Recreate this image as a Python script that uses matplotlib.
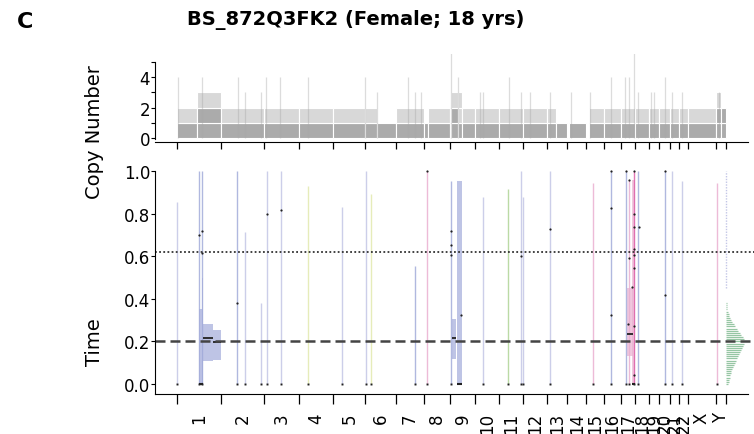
import matplotlib as mpl

mpl.use("Agg")
import matplotlib.pyplot as plt
import numpy as np

# chromosome layout (hg19, Mb)
CHROMS = [str(i) for i in range(1, 23)] + ["X", "Y"]
CHROM_LEN = [249.25, 243.2, 198.0, 191.15, 180.9, 171.1, 159.1, 146.4, 141.2, 135.5, 135.0,
             133.9, 115.2, 107.3, 102.5, 90.35, 81.2, 78.1, 59.1, 63.0, 48.1, 51.3, 155.3, 59.4]

# copy-number segments (chromosome, start/end in Mb within chromosome, total CN, major CN)
cn_chrom = ["1", "1", "2", "3", "4", "5", "6", "6", "7", "8", "8", "9", "9", "9", "9", "10", "11",
            "12", "13", "13", "14", "15", "16", "17", "18", "19", "20", "21", "22", "X", "Y", "Y"]
cn_start = [0, 111, 0, 0, 0, 0, 0, 65, 0, 0, 22, 0, 6, 44, 66, 0, 0,
            0, 0, 52, 10, 17, 0, 0, 0, 0, 0, 0, 0, 0, 0, 28]
cn_end = [111, 249.25, 243.2, 198.0, 191.15, 180.9, 65, 171.1, 159.1, 22, 146.4, 6, 44, 66, 141.2,
          135.5, 135.0, 133.9, 52, 115.2, 107.3, 102.5, 90.35, 81.2, 78.1, 59.1, 63.0, 48.1, 51.3,
          155.3, 28, 59.4]
cn_total = [2, 3, 2, 2, 2, 2, 2, 1, 2, 1, 2, 2, 3, 3, 2, 2, 2, 2, 2, 1, 1, 2, 2, 2, 2, 2, 2, 2, 2, 2, 3, 2]
cn_major = [1, 2, 1, 1, 1, 1, 1, 1, 1, 1, 1, 1, 2, 1, 1, 1, 1, 1, 1, 1, 1, 1, 1, 1, 1, 1, 1, 1, 1, 1, 2, 2]

# short high-level segments (genome Mb, total CN)
amp_pos = [5.6, 140.9, 343.9, 383.3, 473.5, 501.7, 580.6, 738.4, 1059.8, 1127.4, 1302.1, 1341.6,
           1375.4, 1544.5, 1584.0, 1708.0, 1725.0, 1871.5, 1939.0, 1990.0, 2102.6, 2221.0, 2328.4,
           2446.5, 2525.4, 2548.0, 2576.2, 2598.8, 2672.0, 2689.0, 2750.8, 2790.3, 2846.7, 3055.3]
amp_cn = [4, 4, 4, 3, 3, 4, 4, 4, 4, 3, 4, 3, 3, 6, 4, 3, 3, 4, 3, 3, 3, 3, 3, 4, 4, 4, 6, 3, 3, 3,
          4, 3, 3, 3]

# timing: narrow segments (genome Mb, upper end of interval, class)
seg_pos = [1.7, 124.0, 142.6, 339.9, 383.3, 471.8, 505.6, 586.2, 738.4, 930.1, 1063.7, 1093.6,
           1341.6, 1407.6, 1542.9, 1724.9, 1867.5, 1937.4, 1952.1, 2102.6, 2342.2, 2444.7, 2529.3,
           2545.1, 2577.8, 2600.3, 2750.8, 2788.6, 2848.4, 3045.7]
seg_top = [0.856, 1.0, 1.0, 1.0, 0.712, 0.38, 1.0, 1.0, 0.93, 0.83, 1.0, 0.89, 0.555, 1.0, 0.955,
           0.876, 0.915, 1.0, 0.876, 1.0, 0.944, 1.0, 1.0, 0.96, 1.0, 1.0, 1.0, 1.0, 0.955, 0.944]
seg_cls = ["lav", "blue", "blue", "blue", "lav", "lav", "lav", "lav", "yel", "lav", "lav", "yel",
           "blue", "pink", "blue", "lav", "grn", "lav", "lav", "lav", "pink", "blue", "blue", "pink",
           "mag", "blue", "blue", "lav", "lav", "pink"]

# timing: wider segments with confidence interval and point estimate
box_x0 = [124.0, 141.0, 148.3, 201.2, 1548.5, 1578.4, 2538.3, 2564.9]
box_x1 = [148.3, 148.3, 201.2, 249.2, 1574.4, 1604.9, 2570.5, 2581.8]
box_lo = [0.0, 0.0, 0.107, 0.112, 0.117, 0.0, 0.13, 0.0]
box_hi = [0.35, 0.50, 0.28, 0.255, 0.305, 0.955, 0.45, 0.96]
box_t = [None, None, 0.216, 0.199, 0.217, None, 0.235, None]
box_cls = ["blue", "blue", "blue", "blue", "blue", "blue", "pink", "pink"]

# individual mutation timings
dot_x = [124.0, 142.6, 142.6, 339.9, 505.6, 586.2, 1407.6, 1542.9, 1542.9, 1542.9, 1600.9, 1937.4,
         2102.6, 2444.7, 2444.7, 2444.7, 2529.3, 2546.2, 2577.8, 2577.8, 2577.8, 2577.8, 2577.8,
         2577.8, 2577.8, 2577.8, 2603.1, 2546.2, 2566.6, 2542.3, 2750.8, 2750.8]
dot_y = [0.70, 0.717, 0.614, 0.38, 0.798, 0.817, 1.0, 0.72, 0.653, 0.608, 0.324, 0.60,
         0.73, 0.825, 0.325, 1.0, 1.0, 0.96, 1.0, 0.798, 0.735, 0.634, 0.606, 0.547,
         0.27, 0.042, 0.735, 0.59, 0.457, 0.28, 1.0, 0.42]

# distribution of timing for the whole genome (rel. density at 0.00, 0.01, ... 0.40)
hist_y = np.arange(0, 0.405, 0.01)
hist_d = [2.0, 2.5, 3.0, 3.5, 4.0, 4.5, 5.0, 6.0, 7.0, 8.0, 9.0, 10.0, 11.0, 12.0, 13.0, 14.0,
          15.0, 16.0, 17.0, 17.5, 18.0, 17.5, 16.5, 15.0, 13.5, 12.0, 10.5, 9.0, 7.5, 6.0, 5.0,
          4.0, 3.0, 2.2, 1.6, 1.1, 0.7, 0.4, 0.2, 0.1, 0.0]

T_EARLY, T_LATE = 0.2, 0.62

COLS = {"lav": "#c3c6e6", "blue": "#a3acda", "pink": "#eab0d0", "mag": "#dc5fa8",
        "grn": "#b0d496", "yel": "#e2e9ae"}

plt.rcParams["font.family"] = "DejaVu Sans"

bounds = np.concatenate([[0], np.cumsum(CHROM_LEN)])
offset = dict(zip(CHROMS, bounds[:-1]))
mids = (bounds[:-1] + bounds[1:]) / 2
XLIM = (-124, 3252.5)
XEND = 3218

fig = plt.figure(figsize=(7.54, 4.35), dpi=100, facecolor="white")
W, H = 754, 435
ax_cn = fig.add_axes([155 / W, 1 - 143 / H, 599 / W, 88 / H])
ax_t = fig.add_axes([155 / W, 1 - 395 / H, 599 / W, 230 / H])

# copy number panel
for c, s, e, tot, maj in zip(cn_chrom, cn_start, cn_end, cn_total, cn_major):
    x0 = offset[c] + s
    for k in range(tot):
        col = "#ababab" if k < maj else "#d8d8d8"
        ax_cn.add_patch(plt.Rectangle((x0, k), e - s, 1, facecolor=col, edgecolor="white", lw=0.8))
ax_cn.vlines(amp_pos, 0, amp_cn, color="#a8a8a8", lw=0.9, alpha=0.4)
ax_cn.set_xlim(*XLIM)
ax_cn.set_ylim(-0.263, 5.53)
ax_cn.set_yticks([0, 2, 4])
ax_cn.set_yticks([1, 3, 5], minor=True)
ax_cn.set_xticks(bounds)
ax_cn.set_xticklabels([])
ax_cn.tick_params(axis="x", length=5, width=0.9, direction="out")
ax_cn.tick_params(axis="y", which="both", length=3, width=0.8, pad=0.5, labelsize=12)
for side in ("top", "right"):
    ax_cn.spines[side].set_visible(False)
ax_cn.spines["left"].set_bounds(-0.05, 5)
ax_cn.spines["bottom"].set_bounds(XLIM[0], XEND)

# timing panel
for x, top, cl in zip(seg_pos, seg_top, seg_cls):
    ax_t.vlines(x, 0, top, color=COLS[cl], lw=1.0, alpha=0.85)
ax_t.vlines(bounds[-1] - 1.5, 0.45, 1.0, color=COLS["lav"], lw=1.0, ls=(0, (1, 1)))
for x0, x1, lo, hi, t, cl in zip(box_x0, box_x1, box_lo, box_hi, box_t, box_cls):
    ax_t.add_patch(plt.Rectangle((x0, lo), x1 - x0, hi - lo, facecolor=COLS[cl], edgecolor="none",
                                 alpha=0.7))
    if t is not None:
        ax_t.hlines(t, x0, x1, color="#222222", lw=1.3)
    if lo == 0:
        ax_t.hlines(0, x0, x1, color="#222222", lw=1.5)
ax_t.plot(seg_pos, np.zeros(len(seg_pos)), "s", color="#222222", ms=1.4, mew=0)
ax_t.plot(dot_x, dot_y, "o", color="#222222", ms=1.6, mew=0)

hist_scale = 5.637
ax_t.hlines(hist_y, bounds[-1] + 1, bounds[-1] + 1 + np.array(hist_d) * hist_scale,
            color="#6aae7e", lw=0.9, alpha=0.7)

ax_t.axhline(T_LATE, color="#333333", lw=1.3, ls=(0, (1, 1.3)))
ax_t.axhline(T_EARLY, color="#444444", lw=1.8, ls=(0, (4, 2)))

ax_t.set_xlim(*XLIM)
ax_t.set_ylim(-0.047, 1.033)
ax_t.set_yticks(np.round(np.arange(0, 1.01, 0.2), 1))
ax_t.set_yticklabels([f"{v:.1f}" for v in np.arange(0, 1.01, 0.2)])
ax_t.set_xticks(bounds)
ax_t.set_xticklabels([])
ax_t.set_xticks(mids, minor=True)
ax_t.set_xticklabels(CHROMS, minor=True, rotation=90, fontsize=12)
ax_t.tick_params(axis="x", which="major", length=7, width=0.9, direction="out")
ax_t.tick_params(axis="x", which="minor", length=0, pad=13)
ax_t.tick_params(axis="y", length=3, width=0.8, pad=0.5, labelsize=12)
for side in ("top", "right"):
    ax_t.spines[side].set_visible(False)
ax_t.spines["left"].set_bounds(-0.047, 1.0)
ax_t.spines["bottom"].set_bounds(XLIM[0], XEND)

fig.text(94 / W, 1 - 132 / H, "Copy Number", rotation=90, ha="center", va="center", fontsize=14)
fig.text(94 / W, 1 - 342 / H, "Time", rotation=90, ha="center", va="center", fontsize=14)
fig.text(356 / W, 1 - 20 / H, "BS_872Q3FK2 (Female; 18 yrs)", ha="center", va="center",
         fontsize=14, fontweight="bold")
fig.text(25 / W, 1 - 22 / H, "C", ha="center", va="center", fontsize=16, fontweight="bold")

fig.savefig("out.png", dpi=100, facecolor="white")
plt.close(fig)
